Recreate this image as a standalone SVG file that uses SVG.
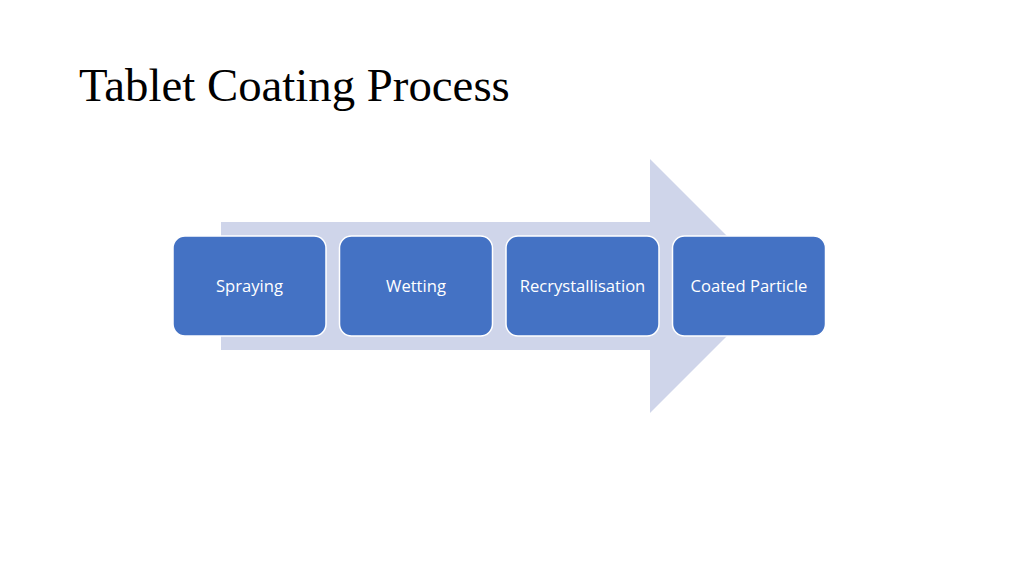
<svg xmlns="http://www.w3.org/2000/svg" width="1024" height="576" viewBox="0 0 1024 576">
<style>
.box{fill:#4472C4;stroke:#ffffff;stroke-width:1.5}
.lbl{font-family:"Open Sans","Liberation Sans",sans-serif;font-size:16.6px;fill:#ffffff;text-anchor:middle}
.title{font-family:"Liberation Serif",serif;font-size:46.8px;fill:#000000}
</style>
<rect width="1024" height="576" fill="#ffffff"/>
<text class="title" x="79" y="101">Tablet Coating Process</text>
<g id="connectors">
<polygon points="221,222 650,222 650,159 777,286 650,413 650,350 221,350" fill="#CFD5EA"/>
</g>
<g id="spraying">
<rect class="box" x="173" y="236" width="153" height="100" rx="12"/>
<text class="lbl" x="249.5" y="292">Spraying</text>
</g>
<g id="wetting">
<rect class="box" x="339.5" y="236" width="153" height="100" rx="12"/>
<text class="lbl" x="416" y="292">Wetting</text>
</g>
<g id="recrystallisation">
<rect class="box" x="506" y="236" width="153" height="100" rx="12"/>
<text class="lbl" x="582.5" y="292">Recrystallisation</text>
</g>
<g id="coated-particle">
<rect class="box" x="672.5" y="236" width="153" height="100" rx="12"/>
<text class="lbl" x="749" y="292">Coated Particle</text>
</g>
</svg>
